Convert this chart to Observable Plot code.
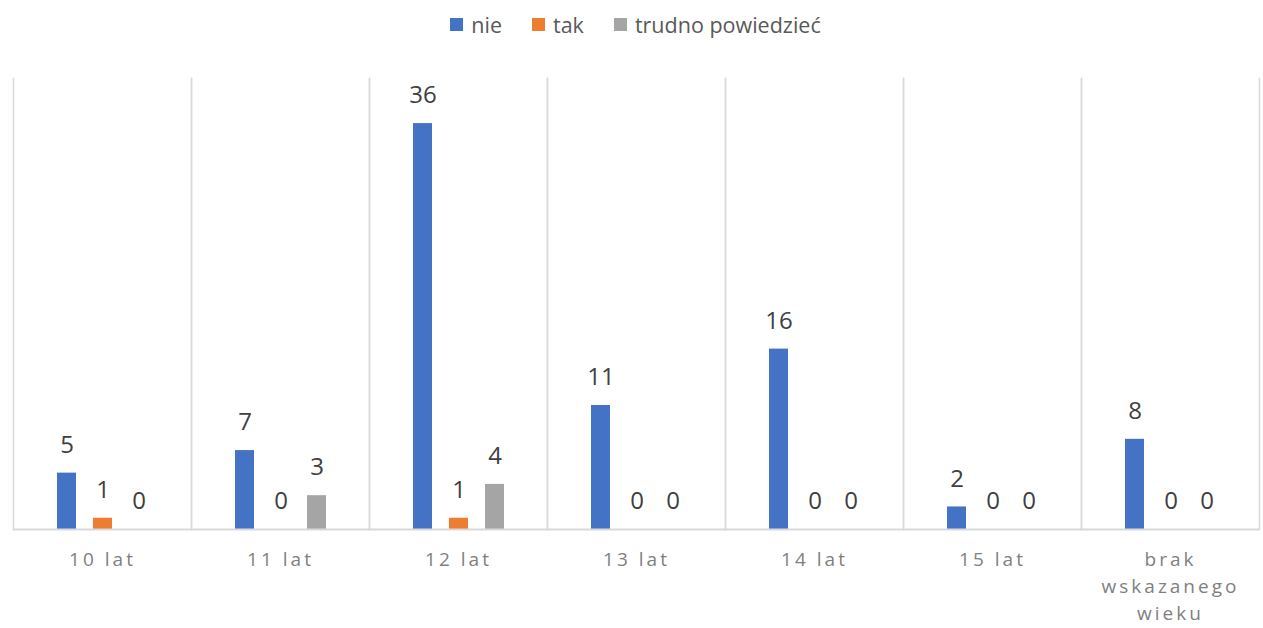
<!DOCTYPE html>
<html>
<head>
<meta charset="utf-8">
<script src="https://cdn.jsdelivr.net/npm/d3@7"></script>
<script src="https://cdn.jsdelivr.net/npm/@observablehq/plot@0.6"></script>
<style>
  html, body { margin: 0; padding: 0; background: #fff; }
  body { width: 1263px; height: 628px; overflow: hidden; font-family: "Open Sans", sans-serif; }
  #legend { height: 48px; display: flex; justify-content: center; align-items: center; padding-left: 8px; box-sizing: border-box; font-size: 21.5px; color: #595959; }
  #legend .item { display: flex; align-items: center; margin: 0 15px; }
  #legend .sw { width: 13px; height: 13px; margin-right: 8px; }
  #chart g[aria-label="fx-axis tick label"] text { letter-spacing: 3px; }
</style>
</head>
<body>
<div id="legend"></div>
<div id="chart"></div>
<script>
const categories = ["10 lat", "11 lat", "12 lat", "13 lat", "14 lat", "15 lat", "brak wskazanego wieku"];
const series = ["nie", "tak", "trudno powiedzieć"];
const nieValues = [5, 7, 36, 11, 16, 2, 8];
const takValues = [1, 0, 1, 0, 0, 0, 0];
const trudnoValues = [0, 3, 4, 0, 0, 0, 0];
const colors = ["#4472c4", "#ed7d31", "#a5a5a5"];

const valuesBySeries = [nieValues, takValues, trudnoValues];
const data = [];
categories.forEach((c, i) => {
  series.forEach((s, j) => {
    data.push({category: c, series: s, value: valuesBySeries[j][i]});
  });
});

// legend
const legend = document.getElementById("legend");
series.forEach((s, j) => {
  const item = document.createElement("div");
  item.className = "item";
  const sw = document.createElement("div");
  sw.className = "sw";
  sw.style.background = colors[j];
  const t = document.createElement("span");
  t.textContent = s;
  item.appendChild(sw);
  item.appendChild(t);
  legend.appendChild(item);
});

const chart = Plot.plot({
  width: 1263,
  height: 580,
  marginTop: 30,
  marginBottom: 99,
  marginLeft: 11,
  marginRight: 2,
  style: {fontFamily: "Open Sans", background: "#fff"},
  fx: {domain: categories, paddingInner: 0, paddingOuter: 0, label: null},
  x: {domain: series, paddingInner: 0.486, paddingOuter: 1.157, axis: null},
  y: {domain: [0, 40], axis: null},
  color: {domain: series, range: colors},
  marks: [
    Plot.frame({anchor: "left", stroke: "#d9d9d9", strokeWidth: 1.5}),
    Plot.frame({anchor: "right", stroke: "#d9d9d9", strokeWidth: 1.5}),
    Plot.barY(data, {fx: "category", x: "series", y: "value", fill: "series"}),
    Plot.ruleY([0], {stroke: "#d9d9d9", strokeWidth: 2}),
    Plot.text(data, {fx: "category", x: "series", y: "value", text: d => String(d.value), dy: -28, fontSize: 24, fill: "#404040"}),
    Plot.axisFx({
      anchor: "bottom",
      tickSize: 0,
      tickPadding: 17,
      fontSize: 19,
      fill: "#7f7f7f",
      lineAnchor: "top",
      lineHeight: 1.43,
      label: null,
      tickFormat: d => d.startsWith("brak") ? d.split(" ").join("\n") : d
    })
  ]
});
document.getElementById("chart").appendChild(chart);
</script>
</body>
</html>
